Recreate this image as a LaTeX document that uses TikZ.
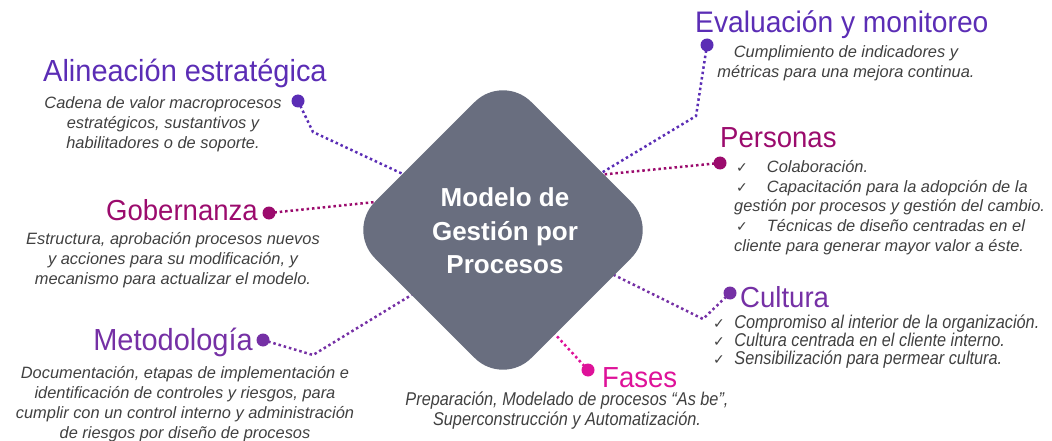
\documentclass[tikz,border=0pt]{standalone}
\usepackage{fontspec}
\setmainfont{Liberation Sans}
\newfontfamily\ttlfont[FakeStretch=0.95]{Liberation Sans}
\newfontfamily\nrwfont[FakeStretch=0.88]{Liberation Sans}
\newfontfamily\ckfont{DejaVu Sans}
\newcommand\chkmk{{\ckfont\upshape\fontsize{14}{14}\selectfont ✓}}
\definecolor{cA}{HTML}{5B2DB5}
\definecolor{cG}{HTML}{9B0B6D}
\definecolor{cM}{HTML}{7530A5}
\definecolor{cF}{HTML}{DE1299}
\definecolor{dg}{HTML}{696E7F}
\definecolor{tx}{HTML}{404040}
\pgfdeclarelayer{bg}
\pgfsetlayers{bg,main}
\begin{document}
\begin{tikzpicture}[x=1pt,y=-1pt,
  ttl/.style={inner sep=0, font=\ttlfont\fontsize{29}{32}\selectfont},
  dsc/.style={inner sep=0, align=center, text=tx, font=\itshape\fontsize{16.4}{20}\selectfont},
  lst/.style={inner sep=0, align=left, text=tx, font=\itshape\fontsize{16.4}{19.75}\selectfont},
  nrw/.style={inner sep=0, text=tx, font=\nrwfont\itshape\fontsize{18.5}{17.7}\selectfont},
  dot/.style={circle, inner sep=0, minimum size=13},
  conn/.style={line width=2.5, dash pattern=on 2.5 off 2.9}]
\useasboundingbox (0,0) rectangle (1052,441);
% central diamond
\node[fill=dg, rounded corners=40, minimum size=221, rotate=45, inner sep=0] (D) at (503,230) {};
\node[text=white, align=center, inner sep=0, font=\bfseries\fontsize{26}{33.5}\selectfont] (T) at (505,231) {Modelo de\\Gestión por\\Procesos};
% dots
\node[dot, fill=cA] (dA) at (298,101) {};
\node[dot, fill=cG] (dG) at (269,213) {};
\node[dot, fill=cM] (dM) at (263,340) {};
\node[dot, fill=cA] (dE) at (707,45) {};
\node[dot, fill=cG] (dP) at (720,163) {};
\node[dot, fill=cM] (dC) at (730,293) {};
\node[dot, fill=cF] (dF) at (588,370) {};
% bends and ends
\coordinate (bA) at (313,132); \coordinate (eA) at (405,175);
\coordinate (eG) at (385,201);
\coordinate (bM) at (313,355); \coordinate (eM) at (418,291);
\coordinate (bE) at (696,116); \coordinate (eE) at (598,175);
\coordinate (eP) at (598,175);
\coordinate (bC) at (703,319); \coordinate (eC) at (612,274);
\coordinate (eF) at (553,332);
\begin{pgfonlayer}{bg}
\draw[conn, cA] (dA.center) -- (bA) -- (eA);
\draw[conn, cG] (dG.center) -- (eG);
\draw[conn, cM] (dM.center) -- (bM) -- (eM);
\draw[conn, cA] (dE.center) -- (bE) -- (eE);
\draw[conn, cG] (dP.center) -- (eP);
\draw[conn, cM] (dC.center) -- (bC) -- (eC);
\draw[conn, cF] (dF.center) -- (eF);
\end{pgfonlayer}
% titles
\node[ttl, text=cA, anchor=base west, font=\ttlfont\fontsize{30.5}{32}\selectfont] (tA) at (43,82) {Alineación estratégica};
\node[ttl, text=cG, anchor=base east] (tG) at (258,220) {Gobernanza};
\node[ttl, text=cM, anchor=base east, font=\ttlfont\fontsize{30.5}{32}\selectfont] (tM) at (253,350) {Metodología};
\node[ttl, text=cA, anchor=base west, font=\ttlfont\fontsize{29.7}{32}\selectfont] (tE) at (695,33) {Evaluación y monitoreo};
\node[ttl, text=cG, anchor=base west] (tP) at (720,147) {Personas};
\node[ttl, text=cM, anchor=base west] (tC) at (740,307) {Cultura};
\node[ttl, text=cF, anchor=base west] (tF) at (602,387) {Fases};
% descriptions
\node[dsc, anchor=north] (xA) at (163,96) {Cadena de valor macroprocesos\\estratégicos, sustantivos y\\habilitadores o de soporte.};
\node[dsc, anchor=north] (xG) at (173,232) {Estructura, aprobación procesos nuevos\\y acciones para su modificación, y\\mecanismo para actualizar el modelo.};
\node[dsc, anchor=north, font=\itshape\fontsize{16.4}{20}\selectfont] (xM) at (185,366) {Documentación, etapas de implementación e\\identificación de controles y riesgos, para\\cumplir con un control interno y administración\\de riesgos por diseño de procesos};
\node[dsc, anchor=north] (xE) at (846,45.5) {Cumplimiento de indicadores y\\métricas para una mejora continua.};
\node[lst, anchor=north west] (xP) at (734,160) {\hspace*{2pt}\chkmk\hspace{19pt}Colaboración.\\\hspace*{2pt}\chkmk\hspace{19pt}Capacitación para la adopción de la\\gestión por procesos y gestión del cambio.\\\hspace*{2pt}\chkmk\hspace{19pt}Técnicas de diseño centradas en el\\cliente para generar mayor valor a éste.};
\node[nrw, align=left, anchor=north west] (xC) at (713,315) {\chkmk\hspace{9.5pt}Compromiso al interior de la organización.\\\chkmk\hspace{9.5pt}Cultura centrada en el cliente interno.\\\chkmk\hspace{9.5pt}Sensibilización para permear cultura.};
\node[nrw, align=center, anchor=north, font=\nrwfont\itshape\fontsize{18.5}{20}\selectfont] (xF) at (567,392) {Preparación, Modelado de procesos “As be”,\\Superconstrucción y Automatización.};
\end{tikzpicture}
\end{document}
